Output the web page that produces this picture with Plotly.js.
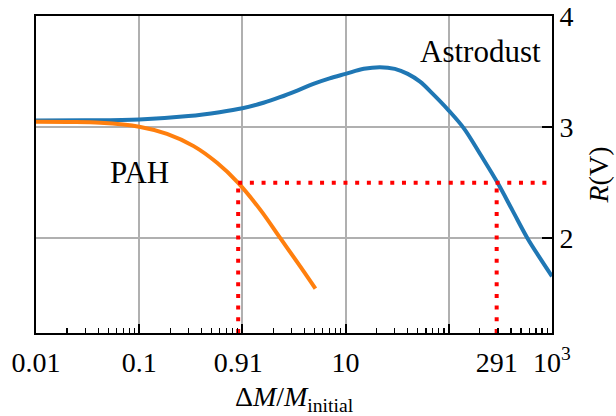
<!DOCTYPE html>
<html>
<head>
<meta charset="utf-8">
<script src="https://cdn.plot.ly/plotly-3.0.1.min.js"></script>
<style>html,body{margin:0;padding:0;background:#fff;}#chart{width:616px;height:416px;}</style>
</head>
<body>
<div id="chart"></div>
<script>
// Astrodust curve
const astroX = [0.01, 0.03, 0.1, 0.3, 0.6, 1, 1.6, 2.31, 3.4, 4.87, 7, 10, 15, 21.5, 30, 40, 52.6, 70, 100, 140, 204, 297, 415, 580, 782, 1000];
const astroY = [3.06, 3.062, 3.07, 3.10, 3.135, 3.17, 3.22, 3.27, 3.33, 3.39, 3.44, 3.48, 3.525, 3.54, 3.525, 3.48, 3.41, 3.30, 3.15, 2.99, 2.75, 2.50, 2.25, 2.00, 1.81, 1.66];
// PAH curve
const pahX = [0.01, 0.02, 0.042, 0.1, 0.186, 0.337, 0.568, 0.91, 1.5, 2.34, 3.66, 5.1];
const pahY = [3.05, 3.047, 3.04, 3.005, 2.94, 2.83, 2.68, 2.50, 2.255, 2.00, 1.745, 1.55];
// reference level and crossing points
const refLevel = 2.5;
const crossX = [0.91, 291];
// axis ticks
const gridVals = [0.01, 0.1, 1, 10, 100, 1000];
const labelVals = [0.01, 0.1, 0.91, 10, 291, 1000];
const labelText = ['0.01', '0.1', '0.91', '10', '291', '10<sup>3</sup>'];
const yTicks = [2, 3, 4];
const yRange = [1.15, 4.0];
const xMax = 1000;

const minorVals = [];
for (let e = -2; e < 3; e++) for (let k = 2; k <= 9; k++) minorVals.push(k * Math.pow(10, e));

const serif = 'Liberation Serif, Times New Roman, serif';
const red = '#ff0000';
const dotted = '4px,7.7px';

const traces = [
  {x: astroX, y: astroY, mode: 'lines', line: {color: '#1f77b4', width: 4, shape: 'spline', smoothing: 1}, name: 'Astrodust'},
  {x: pahX, y: pahY, mode: 'lines', line: {color: '#ff7f0e', width: 4, shape: 'spline', smoothing: 1}, name: 'PAH'},
  {x: [crossX[0], crossX[0]], y: [yRange[0], refLevel], xaxis: 'x2', mode: 'lines', line: {color: red, width: 4, dash: dotted}, hoverinfo: 'skip'},
  {x: [crossX[1], crossX[1]], y: [yRange[0], refLevel], xaxis: 'x2', mode: 'lines', line: {color: red, width: 4, dash: dotted}, hoverinfo: 'skip'},
  {x: [crossX[0], xMax], y: [refLevel, refLevel], xaxis: 'x2', mode: 'lines', line: {color: red, width: 4, dash: dotted}, hoverinfo: 'skip'}
];

const layout = {
  width: 616, height: 416,
  margin: {l: 36, r: 64, t: 16, b: 83},
  paper_bgcolor: '#fff', plot_bgcolor: '#fff',
  showlegend: false,
  font: {family: serif, size: 28, color: '#000'},
  xaxis: {
    type: 'log', range: [-2, 3],
    tickmode: 'array', tickvals: gridVals, showticklabels: false,
    ticks: 'inside', ticklen: 9, tickwidth: 2, tickcolor: '#000',
    minor: {tickmode: 'array', tickvals: minorVals, ticks: 'inside', ticklen: 5, tickwidth: 1.2, tickcolor: '#000', showgrid: false},
    showgrid: true, gridcolor: '#b0b0b0', gridwidth: 2,
    showline: true, linecolor: '#000', linewidth: 2, mirror: true,
    zeroline: false
  },
  xaxis2: {
    type: 'log', range: [-2, 3], overlaying: 'x', side: 'bottom', anchor: 'y',
    tickmode: 'array', tickvals: labelVals, ticktext: labelText,
    ticks: '', showgrid: false, showline: false, zeroline: false,
    ticklabelstandoff: 10,
    tickfont: {family: serif, size: 28, color: '#000'},
    title: {text: 'Δ<i>M</i>/<i>M</i><sub>initial</sub>', font: {family: serif, size: 28, color: '#000'}, standoff: 18}
  },
  yaxis: {
    side: 'right', range: yRange,
    tickmode: 'array', tickvals: yTicks,
    ticks: 'inside', ticklen: 10, tickwidth: 2, tickcolor: '#000',
    showgrid: true, gridcolor: '#b0b0b0', gridwidth: 2,
    showline: true, linecolor: '#000', linewidth: 2, mirror: true,
    zeroline: false,
    tickfont: {family: serif, size: 28, color: '#000'},
    title: {text: '<i>R</i>(V)', font: {family: serif, size: 28, color: '#000'}, standoff: 16}
  },
  annotations: [
    {x: Math.log10(205), y: 3.68, xref: 'x', yref: 'y', text: 'Astrodust', showarrow: false, font: {family: serif, size: 31, color: '#000'}},
    {x: Math.log10(0.1), y: 2.59, xref: 'x', yref: 'y', text: 'PAH', showarrow: false, font: {family: serif, size: 31, color: '#000'}}
  ]
};

Plotly.newPlot('chart', traces, layout, {displayModeBar: false, staticPlot: true});
</script>
</body>
</html>
